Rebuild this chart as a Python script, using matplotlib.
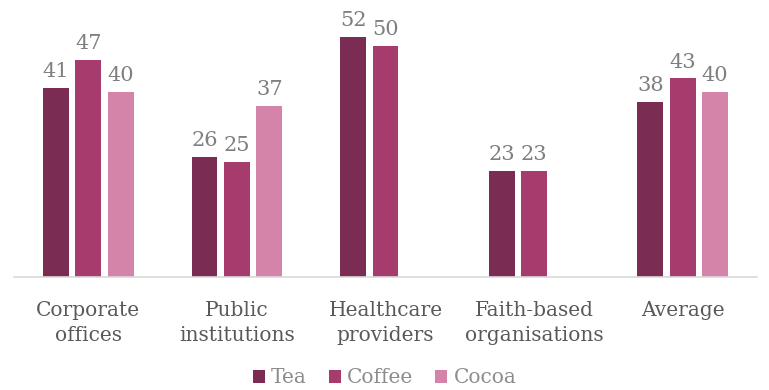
import numpy as np
import matplotlib.pyplot as plt

plt.rcParams['font.family'] = ['DejaVu Serif']

categories = ["Corporate\noffices", "Public\ninstitutions", "Healthcare\nproviders",
              "Faith-based\norganisations", "Average"]
series = ["Tea", "Coffee", "Cocoa"]
tea = [41, 26, 52, 23, 38]
coffee = [47, 25, 50, 23, 43]
cocoa = [40, 37, None, None, 40]
colors = ["#7B2C53", "#A63B6E", "#D483A9"]

fig = plt.figure(figsize=(7.69, 3.9), dpi=100)
ax = fig.add_axes([14 / 769, 1 - 277 / 390, 743 / 769, 277 / 390])

x = np.arange(len(categories))
step = 0.218
width = 0.174
for i, (name, vals, col) in enumerate(zip(series, [tea, coffee, cocoa], colors)):
    xs = [xx + (i - 1) * step for xx, v in zip(x, vals) if v is not None]
    vs = [v for v in vals if v is not None]
    bars = ax.bar(xs, vs, width, color=col, label=name)
    for b, v in zip(bars, vs):
        ax.text(b.get_x() + b.get_width() / 2, v + 1.5, str(v), ha="center", va="bottom",
                fontsize=15, color="#7f7f7f")

ax.set_xlim(-0.5, len(categories) - 0.5)
ax.set_ylim(0, 60)
ax.set_yticks([])
ax.set_xticks(x)
ax.set_xticklabels(categories, fontsize=14.5, color="#595959", linespacing=1.45)
ax.tick_params(axis="x", length=0, pad=17)
for s in ["top", "right", "left"]:
    ax.spines[s].set_visible(False)
ax.spines["bottom"].set_color("#d9d9d9")
ax.spines["bottom"].set_linewidth(1.2)

leg = fig.legend(loc="lower center", bbox_to_anchor=(0.5, -0.04), ncol=3, frameon=False,
                 fontsize=14.5, handlelength=0.6, handleheight=0.6, handletextpad=0.3,
                 columnspacing=1.1)
for t in leg.get_texts():
    t.set_color("#8c8c8c")

fig.savefig("out.png", dpi=100)
